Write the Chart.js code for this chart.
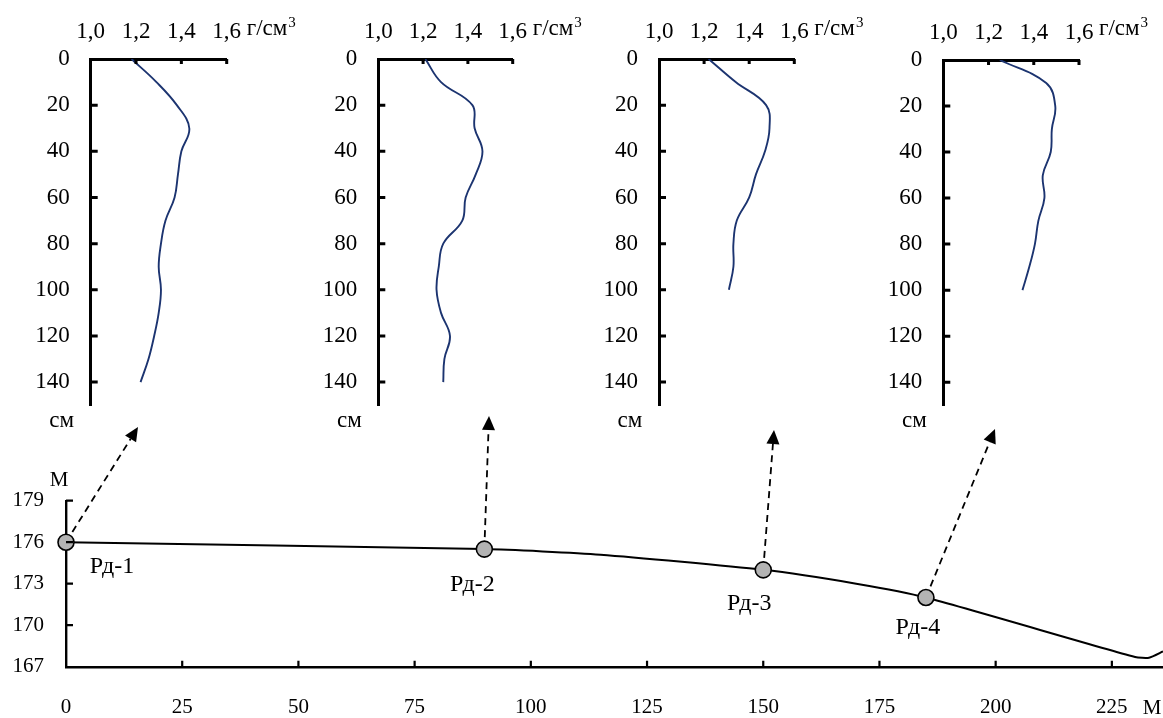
<!DOCTYPE html>
<html>
<head>
<meta charset="utf-8">
<script src="https://cdn.jsdelivr.net/npm/chart.js@4.4.1/dist/chart.umd.min.js"></script>
<style>
  html, body { margin: 0; padding: 0; background: #fff; }
  #wrap { position: relative; width: 1163px; height: 718px; overflow: hidden; }
  .box { position: absolute; }
</style>
</head>
<body>
<div id="wrap">
  <div class="box" style="left:0;top:400px"><canvas id="profil" width="1163" height="318"></canvas></div>
  <div class="box" style="left:0;top:0"><canvas id="rd1" width="300" height="440"></canvas></div>
  <div class="box" style="left:290px;top:0"><canvas id="rd2" width="300" height="440"></canvas></div>
  <div class="box" style="left:580px;top:0"><canvas id="rd3" width="290" height="440"></canvas></div>
  <div class="box" style="left:860px;top:0"><canvas id="rd4" width="303" height="440"></canvas></div>
</div>
<script>
// плотность по глубине, г/см3
const depth140 = [0, 10, 20, 30, 40, 50, 60, 70, 80, 90, 100, 110, 120, 130, 140];
const depth100 = [0, 10, 20, 30, 40, 50, 60, 70, 80, 90, 100];
const densRd1 = [1.18, 1.29, 1.38, 1.435, 1.40, 1.385, 1.37, 1.33, 1.31, 1.30, 1.31, 1.30, 1.28, 1.255, 1.22];
const densRd2 = [1.21, 1.28, 1.42, 1.43, 1.465, 1.435, 1.39, 1.375, 1.29, 1.27, 1.26, 1.28, 1.32, 1.295, 1.29];
const densRd3 = [1.22, 1.34, 1.475, 1.49, 1.47, 1.43, 1.40, 1.345, 1.33, 1.33, 1.31];
const densRd4 = [1.25, 1.455, 1.495, 1.48, 1.475, 1.44, 1.447, 1.42, 1.405, 1.38, 1.35];
const densTicks = [1.0, 1.2, 1.4, 1.6];
const depthTicks = [0, 20, 40, 60, 80, 100, 120, 140];

// профиль рельефа, м
const profileX = [0, 90, 115, 150, 170, 185, 230, 233, 236];
const profileY = [176.0, 175.5, 175.1, 174.0, 173.0, 172.0, 167.7, 167.65, 168.1];
const stationNames = ['Рд-1', 'Рд-2', 'Рд-3', 'Рд-4'];
const stationX = [0, 90, 150, 185];
const stationY = [176.0, 175.5, 174.0, 172.0];
const distTicks = [0, 25, 50, 75, 100, 125, 150, 175, 200, 225];
const heightTicks = [167, 170, 173, 176, 179];

// разметка (пиксели страницы)
const arrowTips = [[138, 427], [489, 416], [774, 430], [995, 429]];
const labelShift = [[46, 25], [-12, 36], [-14, 34], [-8, 30]];
const profilTop = 400;

const SERIF = '"Liberation Serif", "Times New Roman", serif';
const topFont = { family: SERIF, size: 23 };
const bottomFont = { family: SERIF, size: 21 };

const innerTicks = {
    id: 'innerTicks',
    afterDraw(chart, args, opts) {
        const ctx = chart.ctx;
        const area = chart.chartArea;
        const xs = chart.scales.x;
        const ys = chart.scales.y;
        ctx.save();
        ctx.strokeStyle = '#000';
        ctx.lineWidth = opts.width;
        ctx.beginPath();
        xs.ticks.forEach(function (t) {
            if (t.value === xs.min) return;
            const px = xs.getPixelForValue(t.value);
            const y0 = opts.xTop ? area.top : area.bottom;
            ctx.moveTo(px, y0);
            ctx.lineTo(px, opts.xTop ? y0 + opts.xLen : y0 - opts.xLen);
        });
        ys.ticks.forEach(function (t) {
            if (t.value === opts.ySkip) return;
            const py = ys.getPixelForValue(t.value);
            ctx.moveTo(area.left, py);
            ctx.lineTo(area.left + opts.yLen, py);
        });
        ctx.stroke();
        ctx.restore();
    }
};

const unitLabels = {
    id: 'unitLabels',
    afterDraw(chart) {
        const ctx = chart.ctx;
        const xs = chart.scales.x;
        const area = chart.chartArea;
        const gx = xs.getPixelForValue(1.6) + 20;
        ctx.save();
        ctx.fillStyle = '#000';
        ctx.textAlign = 'left';
        ctx.textBaseline = 'alphabetic';
        ctx.font = '23px ' + SERIF;
        ctx.fillText('г/см', gx, 35);
        const w = ctx.measureText('г/см').width;
        ctx.font = '15px ' + SERIF;
        ctx.fillText('3', gx + w + 1, 27);
        ctx.font = '23px ' + SERIF;
        ctx.textAlign = 'center';
        ctx.textBaseline = 'middle';
        ctx.fillText('см', area.left - 29, 421);
        ctx.restore();
    }
};

function makeDensityChart(id, depths, dens, topH, axisW, padRight, padBottom) {
    const pts = depths.map(function (d, i) { return { x: dens[i], y: d }; });
    return new Chart(document.getElementById(id), {
        type: 'scatter',
        data: {
            datasets: [{
                data: pts,
                showLine: true,
                borderColor: '#1c3470',
                borderWidth: 1.9,
                pointRadius: 0,
                tension: 0.4,
                fill: false
            }]
        },
        options: {
            responsive: false,
            animation: false,
            events: [],
            layout: { autoPadding: false, padding: { left: 0, top: 0, right: padRight, bottom: padBottom } },
            plugins: {
                legend: { display: false },
                tooltip: { enabled: false },
                innerTicks: { width: 3, xTop: true, xLen: 5, yLen: 7, ySkip: 0 }
            },
            scales: {
                x: {
                    type: 'linear',
                    position: 'top',
                    min: 1.0,
                    max: 1.6,
                    afterBuildTicks: function (s) { s.ticks = densTicks.map(function (v) { return { value: v }; }); },
                    afterFit: function (s) { s.height = topH; },
                    grid: { display: false, drawTicks: false },
                    border: { display: true, color: '#000', width: 3 },
                    ticks: {
                        padding: 13,
                        color: '#000',
                        font: topFont,
                        maxRotation: 0,
                        autoSkip: false,
                        callback: function (v) { return v.toFixed(1).replace('.', ','); }
                    }
                },
                y: {
                    type: 'linear',
                    reverse: true,
                    min: 0,
                    max: 150,
                    afterBuildTicks: function (s) { s.ticks = depthTicks.map(function (v) { return { value: v }; }); },
                    afterFit: function (s) { s.width = axisW; },
                    grid: { display: false, drawTicks: false },
                    border: { display: true, color: '#000', width: 3 },
                    ticks: { padding: 21, color: '#000', font: topFont, autoSkip: false }
                }
            }
        },
        plugins: [innerTicks, unitLabels]
    });
}

makeDensityChart('rd1', depth140, densRd1, 59, 90.7, 73.3, 26);
makeDensityChart('rd2', depth140, densRd2, 59, 88.3, 77.3, 26);
makeDensityChart('rd3', depth100, densRd3, 59, 79, 75.7, 26);
makeDensityChart('rd4', depth100, densRd4, 60, 83.3, 84, 22);

const stationArrows = {
    id: 'stationArrows',
    beforeDatasetsDraw(chart) {
        const ctx = chart.ctx;
        const xs = chart.scales.x;
        const ys = chart.scales.y;
        ctx.save();
        ctx.strokeStyle = '#000';
        ctx.fillStyle = '#000';
        ctx.lineWidth = 1.8;
        stationX.forEach(function (sx, i) {
            const x0 = xs.getPixelForValue(sx);
            const y0 = ys.getPixelForValue(stationY[i]);
            const x1 = arrowTips[i][0];
            const y1 = arrowTips[i][1] - profilTop;
            const ang = Math.atan2(y1 - y0, x1 - x0);
            const head = 14;
            const bx = x1 - head * Math.cos(ang);
            const by = y1 - head * Math.sin(ang);
            ctx.setLineDash([7, 5]);
            ctx.beginPath();
            ctx.moveTo(x0, y0);
            ctx.lineTo(bx, by);
            ctx.stroke();
            ctx.setLineDash([]);
            ctx.beginPath();
            ctx.moveTo(x1, y1);
            ctx.lineTo(bx + 6.5 * Math.sin(ang), by - 6.5 * Math.cos(ang));
            ctx.lineTo(bx - 6.5 * Math.sin(ang), by + 6.5 * Math.cos(ang));
            ctx.closePath();
            ctx.fill();
        });
        ctx.restore();
    },
    afterDraw(chart) {
        const ctx = chart.ctx;
        const xs = chart.scales.x;
        const ys = chart.scales.y;
        const area = chart.chartArea;
        ctx.save();
        ctx.fillStyle = '#000';
        ctx.font = '24px ' + SERIF;
        ctx.textAlign = 'center';
        ctx.textBaseline = 'middle';
        stationNames.forEach(function (name, i) {
            const px = xs.getPixelForValue(stationX[i]) + labelShift[i][0];
            const py = ys.getPixelForValue(stationY[i]) + labelShift[i][1];
            ctx.fillText(name, px, py);
        });
        ctx.font = '21px ' + SERIF;
        ctx.fillText('М', area.left - 7, 80);
        ctx.fillText('М', 1152, 308);
        ctx.restore();
    }
};

new Chart(document.getElementById('profil'), {
    type: 'scatter',
    data: {
        datasets: [{
            data: stationX.map(function (x, i) { return { x: x, y: stationY[i] }; }),
            showLine: false,
            pointRadius: 8,
            pointBackgroundColor: '#b3b3b3',
            pointBorderColor: '#000',
            pointBorderWidth: 1.6,
            clip: false
        }, {
            data: profileX.map(function (x, i) { return { x: x, y: profileY[i] }; }),
            showLine: true,
            borderColor: '#000',
            borderWidth: 2,
            pointRadius: 0,
            tension: 0.2,
            fill: false
        }]
    },
    options: {
        responsive: false,
        animation: false,
        events: [],
        layout: { autoPadding: false, padding: { left: 0, top: 100.7, right: 0, bottom: 0 } },
        plugins: {
            legend: { display: false },
            tooltip: { enabled: false },
            innerTicks: { width: 2.2, xTop: false, xLen: 6, yLen: 7, ySkip: 167 }
        },
        scales: {
            x: {
                type: 'linear',
                min: 0,
                max: 236,
                afterBuildTicks: function (s) { s.ticks = distTicks.map(function (v) { return { value: v }; }); },
                afterFit: function (s) { s.height = 51.3; },
                grid: { display: false, drawTicks: false },
                border: { display: true, color: '#000', width: 2.4 },
                ticks: { padding: 28, color: '#000', font: bottomFont, maxRotation: 0, autoSkip: false }
            },
            y: {
                type: 'linear',
                min: 167,
                max: 179,
                afterBuildTicks: function (s) { s.ticks = heightTicks.map(function (v) { return { value: v }; }); },
                afterFit: function (s) { s.width = 66; },
                grid: { display: false, drawTicks: false },
                border: { display: true, color: '#000', width: 2.4 },
                ticks: { padding: 22, color: '#000', font: bottomFont, autoSkip: false }
            }
        }
    },
    plugins: [innerTicks, stationArrows]
});
</script>
</body>
</html>
